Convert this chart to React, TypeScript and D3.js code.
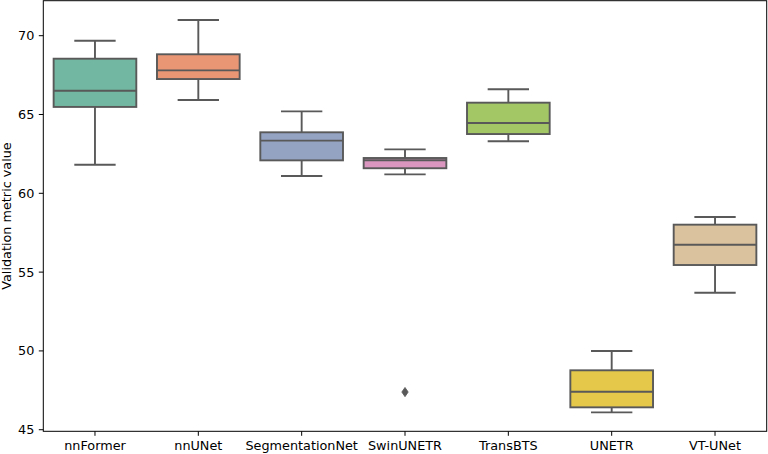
import React from "react";
import * as d3 from "d3";

const categories = ["nnFormer", "nnUNet", "SegmentationNet", "SwinUNETR", "TransBTS", "UNETR", "VT-UNet"];
const whiskerLow = [61.81, 65.92, 61.1, 61.2, 63.3, 46.1, 53.69];
const q1 = [65.48, 67.25, 62.09, 61.59, 63.76, 46.42, 55.45];
const median = [66.51, 67.8, 63.34, 62.1, 64.46, 47.41, 56.74];
const q3 = [68.54, 68.82, 63.87, 62.24, 65.75, 48.77, 58.01];
const whiskerHigh = [69.68, 71.0, 65.2, 62.79, 66.6, 49.99, 58.5];
const outliers: [number, number][] = [[3, 47.39]];
const colors = ["#72b7a1", "#e99675", "#95a3c3", "#db96c0", "#a2c764", "#e5c849", "#dbc29e"];
const yTicks = [45, 50, 55, 60, 65, 70];
const yLabel = "Validation metric value";

const W = 768, H = 454;
const L = 43.3, R = 766.7, T = 0.7, B = 431.3;
const FONT = "DejaVu Sans";
const FS = 12.8;
const GRAY = "#595959";

export default function App() {
  const x = d3.scaleBand<string>().domain(categories).range([L, R]).padding(0);
  const y = d3.scaleLinear().domain([44.9, 72.22]).range([B, T]);
  const bw = x.bandwidth() * 0.8;
  const cw = bw / 2;
  const lw = 1.9;
  return (
    <svg width={W} height={H} style={{ position: "absolute", left: 0, top: 0, background: "#fff" }} fontFamily={FONT}>
      <rect x={0} y={0} width={W} height={H} fill="#fff" />
      {categories.map((c, i) => {
        const cx = (x(c) as number) + x.bandwidth() / 2;
        return (
          <g key={c}>
            <line x1={cx} x2={cx} y1={y(q3[i])} y2={y(whiskerHigh[i])} stroke={GRAY} strokeWidth={lw} />
            <line x1={cx} x2={cx} y1={y(q1[i])} y2={y(whiskerLow[i])} stroke={GRAY} strokeWidth={lw} />
            <line x1={cx - cw / 2} x2={cx + cw / 2} y1={y(whiskerHigh[i])} y2={y(whiskerHigh[i])} stroke={GRAY} strokeWidth={lw} />
            <line x1={cx - cw / 2} x2={cx + cw / 2} y1={y(whiskerLow[i])} y2={y(whiskerLow[i])} stroke={GRAY} strokeWidth={lw} />
            <rect x={cx - bw / 2} y={y(q3[i])} width={bw} height={y(q1[i]) - y(q3[i])} fill={colors[i]} stroke={GRAY} strokeWidth={lw} />
            <line x1={cx - bw / 2} x2={cx + bw / 2} y1={y(median[i])} y2={y(median[i])} stroke={GRAY} strokeWidth={lw} />
          </g>
        );
      })}
      {outliers.map(([i, v], k) => {
        const cx = (x(categories[i]) as number) + x.bandwidth() / 2;
        const cy = y(v);
        const hw = 3.2, hh = 4.6;
        return (
          <path key={k} d={`M${cx},${cy - hh}L${cx + hw},${cy}L${cx},${cy + hh}L${cx - hw},${cy}Z`} fill={GRAY} stroke={GRAY} strokeWidth={0.8} />
        );
      })}
      <rect x={L} y={T} width={R - L} height={B - T} fill="none" stroke="#000" strokeWidth={1} />
      {yTicks.map((t) => (
        <g key={t}>
          <line x1={L - 4.5} x2={L} y1={y(t)} y2={y(t)} stroke="#000" strokeWidth={1} />
          <text x={L - 9} y={y(t)} dy="0.35em" textAnchor="end" fontSize={FS} fill="#000">{t}</text>
        </g>
      ))}
      {categories.map((c) => {
        const cx = (x(c) as number) + x.bandwidth() / 2;
        return (
          <g key={c}>
            <line x1={cx} x2={cx} y1={B} y2={B + 4.5} stroke="#000" strokeWidth={1} />
            <text x={cx} y={B + 18.5} textAnchor="middle" fontSize={FS} fill="#000">{c}</text>
          </g>
        );
      })}
      <text transform={`translate(${11},${(T + B) / 2}) rotate(-90)`} textAnchor="middle" fontSize={FS} fill="#000">{yLabel}</text>
    </svg>
  );
}
